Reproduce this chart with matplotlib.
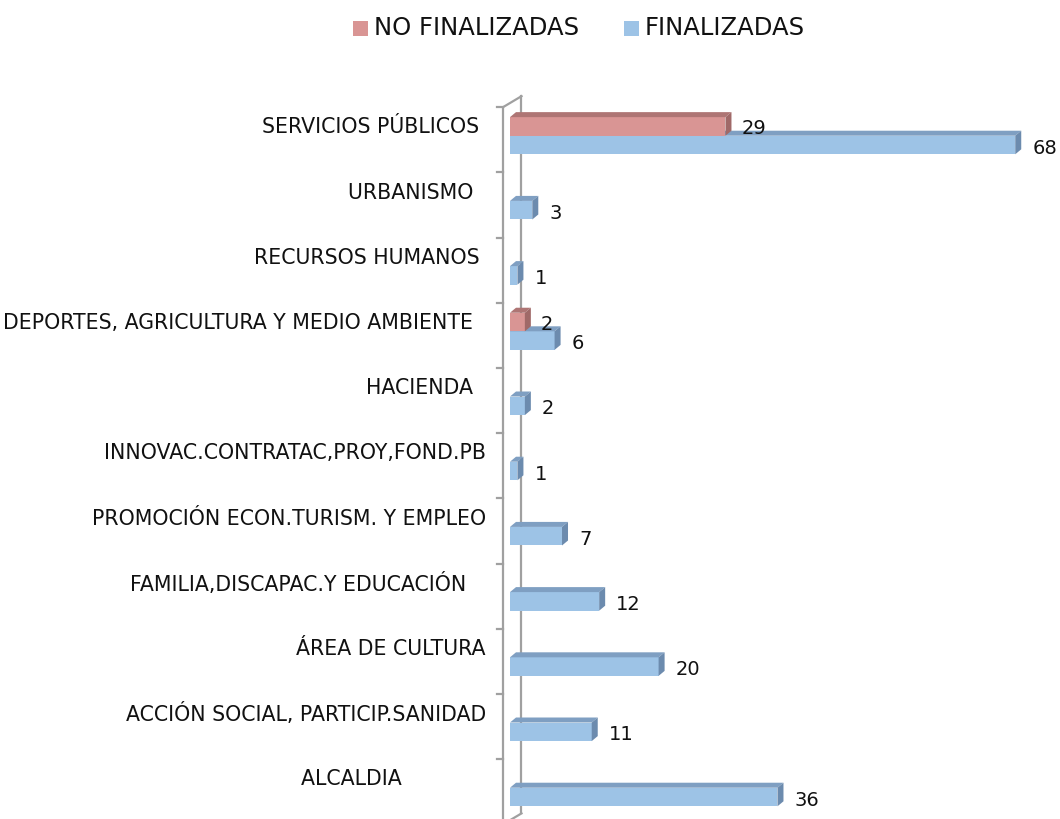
import matplotlib
matplotlib.use("Agg")
import matplotlib.pyplot as plt
from matplotlib.patches import Polygon, Rectangle

categories = [
    "ALCALDIA             ",
    "ACCIÓN SOCIAL, PARTICIP.SANIDAD",
    "ÁREA DE CULTURA",
    "FAMILIA,DISCAPAC.Y EDUCACIÓN   ",
    "PROMOCIÓN ECON.TURISM. Y EMPLEO",
    "INNOVAC.CONTRATAC,PROY,FOND.PB",
    "HACIENDA  ",
    "DEPORTES, AGRICULTURA Y MEDIO AMBIENTE  ",
    "RECURSOS HUMANOS ",
    "URBANISMO  ",
    "SERVICIOS PÚBLICOS ",
]
finalizadas = [36, 11, 20, 12, 7, 1, 2, 6, 1, 3, 68]
no_finalizadas = [0, 0, 0, 0, 0, 0, 0, 2, 0, 0, 29]
series_names = ["NO FINALIZADAS", "FINALIZADAS"]

FONT = "DejaVu Sans"
PXX = 7.43   # pixels per value unit
PXY = 65.2   # pixels per category
W, H = 1060, 819
X0, Y0 = 510, 797

fig = plt.figure(figsize=(W / 100, H / 100), dpi=100)
ax = fig.add_axes([0, 0, 1, 1])
ax.set_xlim(-X0 / PXX, (W - X0) / PXX)
ax.set_ylim((Y0 - H) / PXY, Y0 / PXY)
ax.axis("off")

def px(dx):
    return dx / PXX

def py(dy):
    return dy / PXY

bh = 0.285
ddx, ddy = px(6), py(5)

blue_front, blue_top, blue_side = "#9DC3E6", "#7F9FC2", "#6C8BAE"
red_front, red_top, red_side = "#D99594", "#AE7574", "#A06968"
grid_col = "#A0A0A0"
txt_col = "#111111"

# walls / axis lines
top_front = 10.58
bot_front = -0.42
dxw, dyw = px(18.5), py(11)
xf = px(-7)
ax.plot([xf, xf], [top_front, bot_front], color=grid_col, lw=1.6, zorder=1, solid_capstyle="butt")
ax.plot([xf + dxw, xf + dxw], [top_front + dyw, bot_front + dyw], color=grid_col, lw=1.6, zorder=1)
ax.plot([xf, xf + dxw], [top_front, top_front + dyw], color=grid_col, lw=1.6, zorder=1)
ax.plot([xf, xf + dxw], [bot_front, bot_front + dyw], color=grid_col, lw=1.6, zorder=1)
for i in range(len(categories)):
    t = i + 0.58
    ax.plot([xf - px(6), xf], [t, t], color=grid_col, lw=1.6, zorder=1)

def bar3d(y, v, front, top, side, z):
    if v <= 0:
        return
    y0, y1 = y - bh / 2, y + bh / 2
    ax.add_patch(Rectangle((0, y0), v, bh, facecolor=front, edgecolor="none", zorder=z))
    ax.add_patch(Polygon([(0, y1), (v, y1), (v + ddx, y1 + ddy), (ddx, y1 + ddy)],
                         closed=True, facecolor=top, edgecolor="none", zorder=z))
    ax.add_patch(Polygon([(v, y0), (v, y1), (v + ddx, y1 + ddy), (v + ddx, y0 + ddy)],
                         closed=True, facecolor=side, edgecolor="none", zorder=z))

for i, (vf, vn) in enumerate(zip(finalizadas, no_finalizadas)):
    bar3d(i, vf, blue_front, blue_top, blue_side, 2 + i * 0.01)
    ax.text(vf + px(17), i - py(3), str(vf), fontsize=14, family=FONT,
            ha="left", va="center", color=txt_col, zorder=5)
    if vn > 0:
        bar3d(i + bh, vn, red_front, red_top, red_side, 3 + i * 0.01)
        ax.text(vn + px(16), i + bh - py(2), str(vn), fontsize=14, family=FONT,
                ha="left", va="center", color=txt_col, zorder=5)
    ax.text(px(-24), i + 0.27, categories[i], fontsize=14.8, family=FONT,
            ha="right", va="center", color=txt_col)

# legend
ly = (Y0 - 28) / PXY
sq = 15
ax.add_patch(Rectangle((px(353 - X0), ly - py(sq / 2)), px(sq), py(sq),
                       facecolor=red_front, edgecolor="none"))
ax.text(px(374 - X0), ly, series_names[0], fontsize=17.5, family=FONT,
        ha="left", va="center", color=txt_col)
ax.add_patch(Rectangle((px(624 - X0), ly - py(sq / 2)), px(sq), py(sq),
                       facecolor=blue_front, edgecolor="none"))
ax.text(px(645 - X0), ly, series_names[1], fontsize=17.5, family=FONT,
        ha="left", va="center", color=txt_col)

fig.savefig("out.png", dpi=100, facecolor="white")
